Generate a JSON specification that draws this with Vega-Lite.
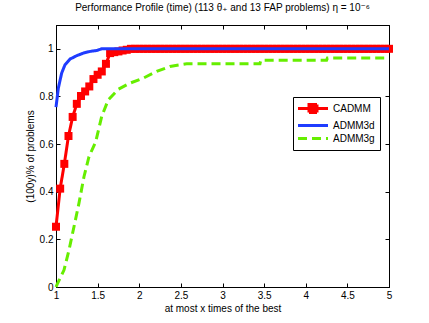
{
  "$schema": "https://vega.github.io/schema/vega-lite/v6.json",
  "autosize": {"type": "none"},
  "width": 333,
  "height": 262,
  "padding": {"left": 56, "top": 25, "right": 40, "bottom": 36},
  "background": "white",
  "config": {
    "font": "Liberation Sans",
    "view": {"stroke": "#000000", "strokeWidth": 1},
    "axis": {"labelFont": "Liberation Sans", "titleFont": "Liberation Sans", "labelFontSize": 10, "titleFontSize": 10, "titleFontWeight": "normal", "labelColor": "#000", "titleColor": "#000", "domainColor": "#000", "tickColor": "#000", "grid": false, "labelFlush": false}
  },
  "title": {"text": "Performance Profile (time) (113 θ₊ and 13 FAP problems) η = 10⁻⁶", "font": "Liberation Sans, DejaVu Sans", "fontSize": 10, "fontWeight": "normal", "color": "#000", "anchor": "middle", "offset": 12},
  "datasets": {
    "red": [
      {"s": "CADMM", "x": 1.00, "y": 0.253}, {"s": "CADMM", "x": 1.05, "y": 0.413}, {"s": "CADMM", "x": 1.10, "y": 0.517},
      {"s": "CADMM", "x": 1.15, "y": 0.634}, {"s": "CADMM", "x": 1.20, "y": 0.714}, {"s": "CADMM", "x": 1.25, "y": 0.769},
      {"s": "CADMM", "x": 1.30, "y": 0.802}, {"s": "CADMM", "x": 1.35, "y": 0.821}, {"s": "CADMM", "x": 1.40, "y": 0.842},
      {"s": "CADMM", "x": 1.45, "y": 0.873}, {"s": "CADMM", "x": 1.50, "y": 0.891}, {"s": "CADMM", "x": 1.55, "y": 0.905},
      {"s": "CADMM", "x": 1.60, "y": 0.937}, {"s": "CADMM", "x": 1.65, "y": 0.982}, {"s": "CADMM", "x": 1.70, "y": 0.986},
      {"s": "CADMM", "x": 1.75, "y": 0.989}, {"s": "CADMM", "x": 1.80, "y": 0.993}, {"s": "CADMM", "x": 1.85, "y": 0.996},
      {"s": "CADMM", "x": 1.90, "y": 1}, {"s": "CADMM", "x": 1.95, "y": 1}, {"s": "CADMM", "x": 2.00, "y": 1},
      {"s": "CADMM", "x": 2.05, "y": 1}, {"s": "CADMM", "x": 2.10, "y": 1}, {"s": "CADMM", "x": 2.15, "y": 1},
      {"s": "CADMM", "x": 2.20, "y": 1}, {"s": "CADMM", "x": 2.25, "y": 1}, {"s": "CADMM", "x": 2.30, "y": 1},
      {"s": "CADMM", "x": 2.35, "y": 1}, {"s": "CADMM", "x": 2.40, "y": 1}, {"s": "CADMM", "x": 2.45, "y": 1},
      {"s": "CADMM", "x": 2.50, "y": 1}, {"s": "CADMM", "x": 2.55, "y": 1}, {"s": "CADMM", "x": 2.60, "y": 1},
      {"s": "CADMM", "x": 2.65, "y": 1}, {"s": "CADMM", "x": 2.70, "y": 1}, {"s": "CADMM", "x": 2.75, "y": 1},
      {"s": "CADMM", "x": 2.80, "y": 1}, {"s": "CADMM", "x": 2.85, "y": 1}, {"s": "CADMM", "x": 2.90, "y": 1},
      {"s": "CADMM", "x": 2.95, "y": 1}, {"s": "CADMM", "x": 3.00, "y": 1}, {"s": "CADMM", "x": 3.05, "y": 1},
      {"s": "CADMM", "x": 3.10, "y": 1}, {"s": "CADMM", "x": 3.15, "y": 1}, {"s": "CADMM", "x": 3.20, "y": 1},
      {"s": "CADMM", "x": 3.25, "y": 1}, {"s": "CADMM", "x": 3.30, "y": 1}, {"s": "CADMM", "x": 3.35, "y": 1},
      {"s": "CADMM", "x": 3.40, "y": 1}, {"s": "CADMM", "x": 3.45, "y": 1}, {"s": "CADMM", "x": 3.50, "y": 1},
      {"s": "CADMM", "x": 3.55, "y": 1}, {"s": "CADMM", "x": 3.60, "y": 1}, {"s": "CADMM", "x": 3.65, "y": 1},
      {"s": "CADMM", "x": 3.70, "y": 1}, {"s": "CADMM", "x": 3.75, "y": 1}, {"s": "CADMM", "x": 3.80, "y": 1},
      {"s": "CADMM", "x": 3.85, "y": 1}, {"s": "CADMM", "x": 3.90, "y": 1}, {"s": "CADMM", "x": 3.95, "y": 1},
      {"s": "CADMM", "x": 4.00, "y": 1}, {"s": "CADMM", "x": 4.05, "y": 1}, {"s": "CADMM", "x": 4.10, "y": 1},
      {"s": "CADMM", "x": 4.15, "y": 1}, {"s": "CADMM", "x": 4.20, "y": 1}, {"s": "CADMM", "x": 4.25, "y": 1},
      {"s": "CADMM", "x": 4.30, "y": 1}, {"s": "CADMM", "x": 4.35, "y": 1}, {"s": "CADMM", "x": 4.40, "y": 1},
      {"s": "CADMM", "x": 4.45, "y": 1}, {"s": "CADMM", "x": 4.50, "y": 1}, {"s": "CADMM", "x": 4.55, "y": 1},
      {"s": "CADMM", "x": 4.60, "y": 1}, {"s": "CADMM", "x": 4.65, "y": 1}, {"s": "CADMM", "x": 4.70, "y": 1},
      {"s": "CADMM", "x": 4.75, "y": 1}, {"s": "CADMM", "x": 4.80, "y": 1}, {"s": "CADMM", "x": 4.85, "y": 1},
      {"s": "CADMM", "x": 4.90, "y": 1}, {"s": "CADMM", "x": 4.95, "y": 1}, {"s": "CADMM", "x": 5.00, "y": 1}
    ],
    "blue": [
      {"s": "ADMM3d", "x": 1.0, "y": 0.755}, {"s": "ADMM3d", "x": 1.028, "y": 0.835}, {"s": "ADMM3d", "x": 1.068, "y": 0.898},
      {"s": "ADMM3d", "x": 1.108, "y": 0.933}, {"s": "ADMM3d", "x": 1.168, "y": 0.957}, {"s": "ADMM3d", "x": 1.249, "y": 0.971},
      {"s": "ADMM3d", "x": 1.328, "y": 0.982}, {"s": "ADMM3d", "x": 1.408, "y": 0.989}, {"s": "ADMM3d", "x": 1.489, "y": 0.993},
      {"s": "ADMM3d", "x": 1.549, "y": 1.0}, {"s": "ADMM3d", "x": 5.0, "y": 1.0}
    ],
    "green": [
      {"s": "ADMM3g", "x": 1.0, "y": 0.0}, {"s": "ADMM3g", "x": 1.016, "y": 0.013}, {"s": "ADMM3g", "x": 1.096, "y": 0.071},
      {"s": "ADMM3g", "x": 1.156, "y": 0.155}, {"s": "ADMM3g", "x": 1.216, "y": 0.253}, {"s": "ADMM3g", "x": 1.276, "y": 0.352},
      {"s": "ADMM3g", "x": 1.336, "y": 0.463}, {"s": "ADMM3g", "x": 1.396, "y": 0.547}, {"s": "ADMM3g", "x": 1.477, "y": 0.61},
      {"s": "ADMM3g", "x": 1.549, "y": 0.716}, {"s": "ADMM3g", "x": 1.628, "y": 0.786}, {"s": "ADMM3g", "x": 1.748, "y": 0.83},
      {"s": "ADMM3g", "x": 1.889, "y": 0.856}, {"s": "ADMM3g", "x": 2.049, "y": 0.877}, {"s": "ADMM3g", "x": 2.209, "y": 0.905},
      {"s": "ADMM3g", "x": 2.369, "y": 0.926}, {"s": "ADMM3g", "x": 2.57, "y": 0.937}, {"s": "ADMM3g", "x": 3.45, "y": 0.937},
      {"s": "ADMM3g", "x": 3.46, "y": 0.952}, {"s": "ADMM3g", "x": 4.25, "y": 0.952}, {"s": "ADMM3g", "x": 4.26, "y": 0.961},
      {"s": "ADMM3g", "x": 5.0, "y": 0.961}
    ]
  },
  "resolve": {"axis": {"x": "independent", "y": "independent"}},
  "layer": [
    {
      "data": {"name": "red"},
      "mark": {"type": "line", "strokeWidth": 3, "clip": false},
      "encoding": {
        "x": {"field": "x", "type": "quantitative", "scale": {"domain": [1, 5], "nice": false, "zero": false},
          "axis": {"title": "at most x times of the best", "values": [1, 1.5, 2, 2.5, 3, 3.5, 4, 4.5, 5], "format": "~g", "tickSize": -4, "labelPadding": 7, "titlePadding": 3, "domain": true}},
        "y": {"field": "y", "type": "quantitative", "scale": {"domain": [0, 1.1], "nice": false, "zero": false},
          "axis": {"title": "(100y)% of problems", "values": [0, 0.2, 0.4, 0.6, 0.8, 1], "format": "~g", "tickSize": -4, "labelPadding": 7, "titlePadding": 4}},
        "color": {"field": "s", "type": "nominal", "scale": {"domain": ["CADMM", "ADMM3d", "ADMM3g"], "range": ["#ff0000", "#1f3cff", "#66ee00"]},
          "legend": {"title": null, "orient": "none", "legendX": 237, "legendY": 72, "padding": 5, "strokeColor": "#000", "fillColor": "white",
            "labelFont": "Liberation Sans", "labelFontSize": 10, "labelColor": "#000", "symbolSize": 100, "symbolStrokeWidth": 3, "rowPadding": -2, "labelOffset": 22,
            "encode": {"symbols": {"update": {
              "x": {"value": 15},
              "shape": {"signal": "datum.value === 'CADMM' ? 'M-3,0H3M-0.8,-0.8H0.8V0.8H-0.8Z' : 'M-3,0H3'"},
              "fill": {"signal": "datum.value === 'CADMM' ? '#ff0000' : 'transparent'"}
            }}}}},
        "strokeDash": {"field": "s", "type": "nominal", "scale": {"domain": ["CADMM", "ADMM3d", "ADMM3g"], "range": [[1, 0], [1, 0], [9, 5]]}, "legend": null}
      }
    },
    {
      "data": {"name": "red"},
      "mark": {"type": "point", "shape": "square", "filled": true, "size": 64, "color": "#ff0000", "opacity": 1, "clip": false},
      "encoding": {
        "x": {"field": "x", "type": "quantitative", "axis": {"orient": "top", "title": null, "labels": false, "values": [1, 1.5, 2, 2.5, 3, 3.5, 4, 4.5, 5], "tickSize": -4}},
        "y": {"field": "y", "type": "quantitative", "axis": {"orient": "right", "title": null, "labels": false, "values": [0, 0.2, 0.4, 0.6, 0.8, 1], "tickSize": -4}}
      }
    },
    {
      "data": {"name": "blue"},
      "mark": {"type": "line", "strokeWidth": 3, "clip": false},
      "encoding": {
        "x": {"field": "x", "type": "quantitative", "axis": null},
        "y": {"field": "y", "type": "quantitative", "axis": null},
        "color": {"field": "s", "type": "nominal"},
        "strokeDash": {"field": "s", "type": "nominal", "legend": null}
      }
    },
    {
      "data": {"name": "green"},
      "mark": {"type": "line", "strokeWidth": 3, "clip": false},
      "encoding": {
        "x": {"field": "x", "type": "quantitative", "axis": null},
        "y": {"field": "y", "type": "quantitative", "axis": null},
        "color": {"field": "s", "type": "nominal"},
        "strokeDash": {"field": "s", "type": "nominal", "legend": null}
      }
    }
  ]
}
